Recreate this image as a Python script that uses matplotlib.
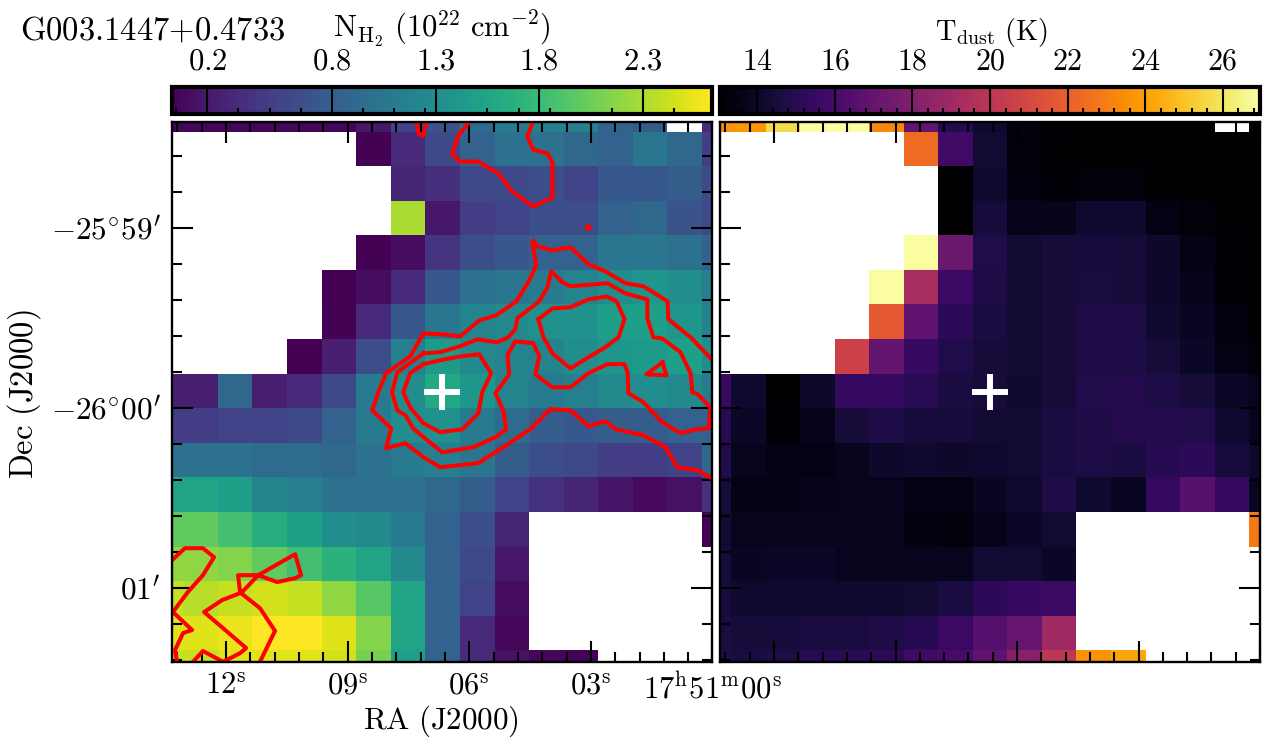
#coding=utf-8
import numpy as np
import matplotlib as mpl
mpl.use('Agg')
import matplotlib.pyplot as plt

n = np.nan

# column density per cell, 10^22 cm-2, top row first
nh2 = [
    [.08, .08, .08, .08, .08, .08, .2, .55, .7, .95, 1.1, 1.15, 1.15, .85, .8, n, .35],
    [n, n, n, n, n, n, .05, .35, .6, .85, 1.0, 1.0, .9, .85, 1.05, .9, .5],
    [n, n, n, n, n, n, n, .3, .38, .6, .6, .65, .55, .75, .75, .8, .65],
    [n, n, n, n, n, n, n, 2.3, .2, .5, .55, .65, .65, .85, .9, .7, .6],
    [n, n, n, n, n, n, .05, .12, .42, .65, .75, .85, .85, 1.05, 1.05, 1.0, .85],
    [n, n, n, n, n, .03, .12, .35, .75, 1.0, 1.05, 1.1, 1.2, 1.3, 1.4, 1.3, 1.15],
    [n, n, n, n, n, .05, .35, .75, 1.05, 1.2, 1.25, 1.35, 1.35, 1.5, 1.5, 1.4, 1.2],
    [n, n, n, n, .03, .25, .65, 1.15, 1.45, 1.25, 1.2, 1.2, 1.3, 1.4, 1.45, 1.5, 1.3],
    [.25, .25, .9, .25, .35, .6, 1.1, 1.3, 1.6, 1.4, 1.2, 1.1, 1.15, 1.25, 1.3, 1.25, 1.1],
    [.5, .5, .55, .55, .6, .85, 1.1, 1.3, 1.35, 1.1, .95, .8, .75, .8, .8, .85, .85],
    [1.0, 1.0, 1.0, .95, .95, .9, 1.0, 1.1, 1.15, 1.05, .8, .65, .6, .5, .5, .55, .9],
    [1.55, 1.55, 1.5, 1.2, 1.15, 1.0, 1.0, 1.0, .9, .8, .55, .4, .3, .18, .1, .15, .4],
    [2.0, 2.0, 1.85, 1.65, 1.5, 1.3, 1.25, 1.1, .85, .65, .3, n, n, n, n, n, .03],
    [2.2, 2.2, 2.15, 2.0, 1.85, 1.7, 1.55, 1.25, .85, .6, .2, n, n, n, n, n, n],
    [2.4, 2.35, 2.4, 2.45, 2.4, 2.2, 1.95, 1.55, .85, .55, .12, n, n, n, n, n, n],
    [2.5, 2.5, 2.55, 2.63, 2.62, 2.5, 2.15, 1.55, .85, .35, .08, n, n, n, n, n, n],
    [2.4, 2.4, 2.5, 2.5, 2.5, 2.45, 2.1, 1.5, .85, .35, .15, .08, .05, n, n, n, n],
]

# dust temperature per cell, K
tdust = [
    [23.6, 23.8, 25.7, 26.9, 26.9, 23.3, 17.0, 14.9, 14.2, 13.4, 13.1, 13.04, 13.04, 13.04, 13.04, n, 13.04],
    [n, n, n, n, n, n, 22.4, 15.8, 14.3, 13.3, 13.04, 13.04, 13.04, 13.04, 13.04, 13.04, 13.04],
    [n, n, n, n, n, n, n, 13.04, 14.2, 13.4, 13.25, 13.3, 13.3, 13.05, 13.04, 13.04, 13.04],
    [n, n, n, n, n, n, n, 13.04, 14.5, 13.7, 13.7, 14.2, 14.2, 13.5, 13.3, 13.04, 13.04],
    [n, n, n, n, n, n, 26.9, 17.2, 14.8, 14.3, 14.4, 14.5, 14.45, 14.1, 13.6, 13.2, 13.04],
    [n, n, n, n, n, 26.9, 19.3, 15.6, 14.7, 14.3, 14.4, 14.55, 14.4, 14.1, 13.7, 13.2, 13.04],
    [n, n, n, n, n, 21.7, 16.8, 15.2, 14.6, 14.3, 14.4, 14.7, 14.7, 14.2, 13.9, 13.4, 13.04],
    [n, n, n, n, 20.7, 17.0, 15.5, 14.8, 14.4, 14.3, 14.4, 14.7, 14.7, 14.4, 14.0, 13.5, 13.3],
    [15.5, 14.2, 13.04, 14.1, 15.4, 15.4, 15.1, 14.6, 14.4, 14.2, 14.4, 14.8, 14.9, 14.7, 14.4, 14.0, 13.8],
    [15.0, 14.0, 13.2, 13.7, 14.4, 14.7, 14.5, 14.5, 14.3, 14.3, 14.6, 14.7, 14.9, 14.9, 14.8, 14.2, 13.8],
    [14.8, 13.8, 13.6, 13.6, 13.8, 14.1, 14.2, 14.1, 14.2, 14.3, 14.6, 14.7, 14.6, 15.0, 15.2, 14.5, 14.1],
    [14.5, 13.6, 13.5, 13.7, 13.8, 13.8, 13.6, 13.5, 13.9, 14.2, 14.7, 14.2, 13.9, 15.4, 16.6, 15.5, 13.9],
    [14.3, 13.8, 13.8, 13.8, 13.85, 13.8, 13.4, 13.35, 13.7, 14.0, 14.3, n, n, n, n, n, 22.9],
    [14.4, 13.9, 14.0, 14.0, 13.8, 13.85, 13.8, 13.8, 14.3, 14.3, 14.0, n, n, n, n, n, n],
    [14.5, 14.2, 14.2, 14.2, 14.2, 14.2, 14.3, 14.6, 15.2, 15.5, 15.6, n, n, n, n, n, n],
    [14.6, 14.4, 14.5, 14.6, 14.6, 14.7, 15.0, 15.6, 16.5, 17.1, 19.0, n, n, n, n, n, n],
    [14.7, 14.6, 14.7, 15.0, 15.1, 15.2, 15.8, 16.0, 16.8, 18.2, 20.0, 23.6, 24.2, n, n, n, n],
]

# contour paths, arcsec east and north of 17h51m00s -26d00m
cont_top = [(80.7, 95.7), (84.7, 91.0), (86.7, 84.7), (84.0, 82.3), (78.0, 82.3), (71.3, 78.3), (66.7, 72.3),
            (59.7, 67.3), (53.3, 70.3), (53.3, 82.0), (55.0, 85.0), (59.7, 86.3), (61.7, 90.7), (59.7, 95.7)]
cont_notch = [(98.7, 95.7), (97.7, 91.3), (96.3, 91.0), (95.3, 95.7)]
cont_dot = [(41.8, 60.3), (41.3, 60.8), (40.8, 60.3), (41.3, 59.8), (41.8, 60.3)]
cont_outer = [(0, 16), (7.3, 23.7), (14.7, 29.7), (15, 35.7), (23, 40.7), (29, 41.7), (35.7, 45.7), (41.3, 48),
              (47.3, 53.7), (53.3, 52.7), (58.3, 54), (59.7, 56), (60, 55), (58.7, 47.7), (61, 42.7), (65.3, 35.7),
              (72, 31), (77.7, 29.3), (84, 24), (90.7, 24.7), (96.3, 25), (100.7, 17.3), (108.7, 11.7), (111.3, 5.3),
              (113.3, -0.7), (107, -6.7), (108.7, -13.3), (102.3, -11.7), (96.3, -16.3), (90.7, -19.7), (78, -18.3),
              (69.7, -13), (60.7, -7), (54, -0.3), (47.3, -0.7), (41.3, -6), (35.7, -4.3), (32.3, -7), (23, -9),
              (15.7, -13), (11.7, -19.7), (5, -20.7), (0, -23.5)]
cont_mid = [(96.3, 18.3), (90.7, 18.7), (84, 20.7), (78.3, 23), (71.7, 22), (68, 23.7), (65.7, 26.3), (65, 30),
            (57.7, 35.7), (55, 40.3), (53.7, 45.7), (50, 42), (47.3, 40.7), (35, 41.7), (29, 38.3), (21.7, 36.3),
            (21.7, 30), (19.7, 23.7), (16.7, 23.3), (10.7, 18.7), (7.3, 11.7), (6.7, 5.3), (5, 4.7), (0.7, 0.3),
            (1.3, -6.7), (5, -7), (10.7, -8.3), (16.7, -4.7), (23, 2), (28, 5), (28.3, 12), (29.3, 14.7), (35, 14.7),
            (41.3, 11.7), (47.3, 7), (53.3, 7), (59, 11.3), (57.7, 17.3), (59.7, 21.7), (65.7, 22.3), (68.3, 17.7),
            (67.7, 11.3), (72.3, 5), (69.7, -0.7), (68.7, -7), (72.3, -9.7), (79.7, -13), (90, -14.7), (95, -10.7),
            (99.7, -6.7), (102.3, -2.3), (105, -0.7), (106.7, 5.3), (105, 12), (96.3, 18.3)]
cont_core = [(96.3, 14.7), (90.7, 16), (84, 17.3), (77.7, 18), (73.7, 11.7), (76.7, 5.3), (78, -1.7), (83.3, -7),
             (90.7, -8), (96.3, -5), (100.7, 0.3), (103, 5.3), (100.7, 11.7), (96.3, 14.7)]
cont_east = [(58, 29.7), (53.3, 33.3), (47.3, 33.7), (41.3, 36.3), (35.3, 37.3), (32, 35.7), (29.3, 29.7), (31.3, 23.7),
             (35.7, 20.3), (41.3, 17), (47.3, 13.3), (53.3, 18.3), (56.3, 23.7), (58, 29.7)]
cont_tri = [(16.7, 15.3), (22, 11.3), (15.3, 11), (16.7, 15.3)]
cont_sw1 = [(180, -50.7), (175.7, -46.7), (169.7, -46.7), (166, -49.7), (169.7, -55.7), (174.7, -61.3), (179.7, -68),
            (173.3, -74), (176.3, -75), (179, -80.7), (178.3, -84.6)]
cont_sw2 = [(150.7, -84.6), (145.7, -74.3), (150.7, -66.7), (157, -61.7), (151.3, -55.7), (139, -48.7), (137, -55.7),
            (139, -56.7), (145, -58), (151.3, -55.7), (158, -55.7), (157.3, -61.7), (163.3, -64), (169.3, -68),
            (155.3, -80), (157.3, -81.7), (163, -84.6), (169.7, -81), (173, -84.6)]
contours = [cont_top, cont_notch, cont_dot, cont_outer, cont_mid, cont_core, cont_east, cont_tri, cont_sw1, cont_sw2]

cross_ra = 90.0
cross_dec = 5.33

nh2_ticks = [0.2, 0.8, 1.3, 1.8, 2.3]
nh2_minor = [0.05, 0.35, 0.5, 0.65, 0.95, 1.1, 1.25, 1.55, 1.7, 1.85, 2.15, 2.45]
t_ticks = [14, 16, 18, 20, 22, 24, 26]
t_minor = [13.6] + [v for v in np.arange(14.4, 27, 0.4) if abs(v / 2 - round(v / 2)) > 0.01]
ra_seconds = [12, 9, 6, 3, 0]
ra_labels = ['$12^{\\mathrm{s}}$', '$09^{\\mathrm{s}}$', '$06^{\\mathrm{s}}$', '$03^{\\mathrm{s}}$',
             '$17^{\\mathrm{h}}51^{\\mathrm{m}}00^{\\mathrm{s}}$']
dec_ticks = [60, 0, -60]
dec_labels = ["$-25^{\\circ}59'$", "$-26^{\\circ}00'$", "$01'$"]

W, H = 1274.0, 753.0
FS = 21.5
plt.rcParams['mathtext.fontset'] = 'cm'
plt.rcParams['font.family'] = 'serif'
plt.rcParams['font.serif'] = ['cmr10', 'DejaVu Serif']
plt.rcParams['axes.formatter.use_mathtext'] = True


def box(x0, x1, y0, y1):
    return [x0 / W, 1 - y1 / H, (x1 - x0) / W, (y1 - y0) / H]


fig = plt.figure(figsize=(W / 100, H / 100), dpi=100)
ax1 = fig.add_axes(box(172, 712.5, 122, 661.5))
ax2 = fig.add_axes(box(720, 1260, 122, 661.5))
cax1 = fig.add_axes(box(172, 711.5, 87, 114))
cax2 = fig.add_axes(box(720, 1260, 87, 114))

extent = (187.8, -7.9, -92.5, 103.5)
im1 = ax1.imshow(np.array(nh2), cmap='viridis', vmin=0.03, vmax=2.63, extent=extent, aspect='auto',
                 interpolation='nearest')
im2 = ax2.imshow(np.array(tdust), cmap='inferno', vmin=13.04, vmax=26.96, extent=extent, aspect='auto',
                 interpolation='nearest')

for path in contours:
    xs = [p[0] for p in path]
    ys = [p[1] for p in path]
    ax1.plot(xs, ys, color='red', lw=2.9, solid_joinstyle='round')

for ax in [ax1, ax2]:
    ax.plot(cross_ra, cross_dec, marker='+', ms=26, mew=4.3, color='white')
    ax.set_xlim(180, 0)
    ax.set_ylim(-84.5, 95.5)
    for s in ax.spines.values():
        s.set_linewidth(1.7)
    # 1 s of RA is 13.5 arcsec here
    ax.set_xticks([s * 13.5 for s in ra_seconds])
    ax.set_xticks([s * 13.5 for s in np.arange(0.6, 13.4, 0.6) if abs(s / 3 - round(s / 3)) > 0.01], minor=True)
    ax.set_yticks(dec_ticks)
    ax.set_yticks([v for v in range(-84, 96, 12) if v % 60 != 0], minor=True)
    ax.tick_params(which='major', direction='in', top=True, right=True, length=15, width=1.5)
    ax.tick_params(which='minor', direction='in', top=True, right=True, length=7.5, width=1.5)

ax1.set_xticklabels(ra_labels, fontsize=22)
ax1.set_yticklabels(dec_labels, fontsize=22.5)
ax1.tick_params(axis='x', which='major', pad=8)
ax1.tick_params(axis='y', which='major', pad=8)
ax2.set_xticklabels([])
ax2.set_yticklabels([])

cb1 = fig.colorbar(im1, cax=cax1, orientation='horizontal')
cb2 = fig.colorbar(im2, cax=cax2, orientation='horizontal')
cb1.set_ticks(nh2_ticks)
cb2.set_ticks(t_ticks)
cax1.set_xticklabels(['$%.1f$' % v for v in nh2_ticks], fontsize=FS + 0.5)
cax2.set_xticklabels(['$%d$' % v for v in t_ticks], fontsize=FS)
cax1.set_xticks(nh2_minor, minor=True)
cax2.set_xticks(t_minor, minor=True)
for cax, cb in [(cax1, cb1), (cax2, cb2)]:
    cb.outline.set_linewidth(3)
    cax.tick_params(axis='x', which='both', direction='in', bottom=True, top=False, labelbottom=False, labeltop=True)
    cax.tick_params(axis='x', which='major', length=19, width=1.5, pad=8)
    cax.tick_params(axis='x', which='minor', length=4.5, width=1.5)

fig.text(20 / W, 1 - 40 / H, '$\\mathrm{G003.1447{+}0.4733}$', fontsize=23.5, ha='left', va='baseline')
fig.text(333 / W, 1 - 38 / H, '$\\mathrm{N_{H_2}}\\ (10^{22}\\ \\mathrm{cm^{-2}})$', fontsize=22, ha='left', va='baseline')
fig.text(935 / W, 1 - 40 / H, '$\\mathrm{T_{dust}}\\ (\\mathrm{K})$', fontsize=20.5, ha='left', va='baseline')
fig.text(441 / W, 1 - 729 / H, '$\\mathrm{RA\\ (J2000)}$', fontsize=22.3, ha='center', va='baseline')
fig.text(43 / W, 1 - 394 / H, '$\\mathrm{Dec\\ (J2000)}$', fontsize=23.5, rotation=90, ha='right', va='center')

fig.savefig('out.png', dpi=100)
